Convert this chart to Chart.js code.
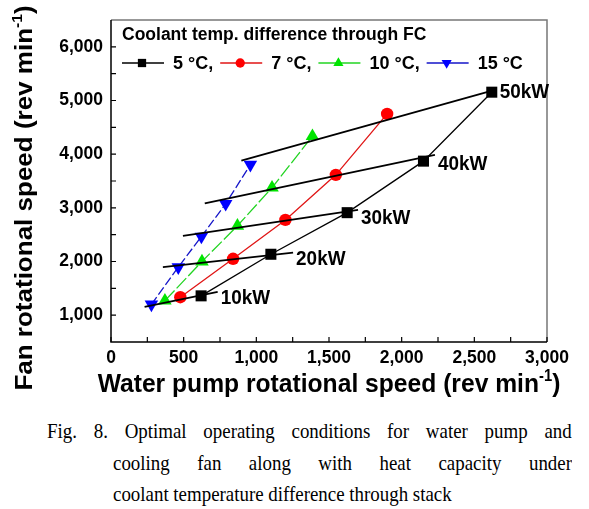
<!DOCTYPE html>
<html>
<head>
<meta charset="utf-8">
<script src="https://cdn.jsdelivr.net/npm/chart.js@4"></script>
<style>
body { margin: 0; background: #fff; }
#wrap { position: relative; width: 589px; height: 509px; overflow: hidden; }
#chart { position: absolute; left: 0; top: 0; }
.cap { position: absolute; font-family: 'Liberation Serif', 'Times New Roman', serif; font-size: 21px; line-height: 32px; color: #000; white-space: nowrap; transform: scaleX(0.9); transform-origin: 0 0; }
.just { white-space: normal; text-align: justify; text-align-last: justify; }
</style>
</head>
<body>
<div id="wrap">
  <canvas id="chart" width="589" height="400"></canvas>
  <div class="cap just" style="left:47px; top:415px; width:583px;">Fig. 8. Optimal operating conditions for water pump and</div>
  <div class="cap just" style="left:113px; top:447px; width:510px;">cooling fan along with heat capacity under</div>
  <div class="cap" style="left:113px; top:478px;">coolant temperature difference through stack</div>
</div>
<script>
// heat capacity for each point (same order in every series)
const powers = ['10kW', '20kW', '30kW', '40kW', '50kW']
const tempLabels = ['5 °C,', '7 °C,', '10 °C,', '15 °C']

// water pump speed / fan speed, rev min-1
const pump5 = [620, 1100, 1625, 2150, 2620]
const fan5 = [1360, 2135, 2910, 3870, 5155]
const pump7 = [477, 840, 1200, 1547, 1900]
const fan7 = [1335, 2050, 2775, 3615, 4750]
const pump10 = [371, 626, 870, 1108, 1386]
const fan10 = [1270, 2000, 2665, 3375, 4335]
const pump15 = [278, 463, 622, 789, 959]
const fan15 = [1200, 1895, 2465, 3075, 3805]

// constant heat capacity lines: [start, end]
const isoPump = [[231, 734], [357, 1253], [495, 1700], [645, 2229], [897, 2654]]
const isoFan = [[1155, 1434], [1894, 2166], [2477, 2961], [3085, 3985], [3879, 5208]]

const xTicks = [0, 500, 1000, 1500, 2000, 2500, 3000]
const yTicks = [1000, 2000, 3000, 4000, 5000, 6000]

const series = [
    { label: tempLabels[0], pump: pump5, fan: fan5, color: '#000000', line: '#000000', style: 'rect', radius: 7.8, rot: 0, dash: [] },
    { label: tempLabels[1], pump: pump7, fan: fan7, color: '#ff0000', line: '#e01515', style: 'circle', radius: 6.2, rot: 0, dash: [] },
    { label: tempLabels[2], pump: pump10, fan: fan10, color: '#00e400', line: '#22d422', style: 'triangle', radius: 7.8, rot: 0, dash: [14, 3] },
    { label: tempLabels[3], pump: pump15, fan: fan15, color: '#0000ff', line: '#1515c8', style: 'triangle', radius: 7.8, rot: 180, dash: [9, 3] }
]

const datasets = []
isoPump.forEach((p, i) => {
    datasets.push({
        label: powers[i],
        data: [{ x: p[0], y: isoFan[i][0] }, { x: p[1], y: isoFan[i][1] }],
        borderColor: '#000',
        borderWidth: 1.8,
        pointRadius: 0,
        showLine: true
    })
})
series.forEach((s) => {
    datasets.push({
        label: s.label,
        data: s.pump.map((v, i) => ({ x: v, y: s.fan[i] })),
        borderColor: s.line,
        borderWidth: 1.3,
        borderDash: s.dash,
        backgroundColor: s.color,
        pointBackgroundColor: s.color,
        pointBorderWidth: 0,
        pointStyle: s.style,
        pointRotation: s.rot,
        pointRadius: s.radius,
        showLine: true
    })
})

const fmt = (v) => v.toLocaleString('en-US')
const sans = 'Liberation Sans, Arial, sans-serif'

// text with a superscript part, centred on x, squeezed by sx / sy
function textSup(ctx, parts, x, y, size, sx, sy) {
    let w = 0
    parts.forEach(([t, sup]) => {
        ctx.font = 'bold ' + (sup ? size * 0.6 : size) + 'px ' + sans
        w += ctx.measureText(t).width
    })
    ctx.save()
    ctx.translate(x, y)
    ctx.scale(sx, sy)
    let cx = -w / 2
    ctx.textAlign = 'left'
    ctx.textBaseline = 'alphabetic'
    parts.forEach(([t, sup]) => {
        ctx.font = 'bold ' + (sup ? size * 0.6 : size) + 'px ' + sans
        ctx.fillText(t, cx, sup ? -size * 0.4 : 0)
        cx += ctx.measureText(t).width
    })
    ctx.restore()
}

const decor = {
    id: 'decor',
    afterDraw(chart) {
        const ctx = chart.ctx
        const a = chart.chartArea
        const xs = chart.scales.x
        const ys = chart.scales.y
        ctx.save()

        // frame
        ctx.lineWidth = 1.5
        ctx.strokeStyle = '#777'
        ctx.beginPath()
        ctx.moveTo(a.left, a.top); ctx.lineTo(a.right, a.top); ctx.lineTo(a.right, a.bottom)
        ctx.stroke()
        ctx.strokeStyle = '#000'
        ctx.beginPath()
        ctx.moveTo(a.left, a.top); ctx.lineTo(a.left, a.bottom); ctx.lineTo(a.right, a.bottom)
        ctx.stroke()

        // inward ticks, major and minor
        ctx.lineWidth = 1.2
        ctx.beginPath()
        for (let v = 0; v <= 3000; v += 250) {
            const px = xs.getPixelForValue(v)
            ctx.moveTo(px, a.bottom); ctx.lineTo(px, a.bottom - 5)
        }
        for (let v = 1000; v <= 6000; v += 500) {
            const py = ys.getPixelForValue(v)
            ctx.moveTo(a.left, py); ctx.lineTo(a.left + 5, py)
        }
        ctx.stroke()

        // heat capacity labels at the end of each line
        ctx.fillStyle = '#000'
        ctx.font = 'bold 21px ' + sans
        ctx.textAlign = 'left'
        ctx.textBaseline = 'middle'
        isoPump.forEach((p, i) => {
            const px = xs.getPixelForValue(p[1])
            const py = ys.getPixelForValue(isoFan[i][1])
            ctx.save()
            ctx.translate(px + 3, py + (i === 4 ? 3 : 6 + i))
            ctx.scale(0.9, 1)
            ctx.fillText(powers[i], 0, 0)
            ctx.restore()
        })

        // legend
        ctx.font = 'bold 17.5px ' + sans
        ctx.textBaseline = 'middle'
        ctx.fillText('Coolant temp. difference through FC', 122, 35)
        ctx.font = 'bold 18px ' + sans
        let lx = 122
        const ly = 63
        series.forEach((s) => {
            ctx.strokeStyle = s.line
            ctx.lineWidth = 1.5
            ctx.setLineDash([])
            ctx.beginPath()
            ctx.moveTo(lx, ly); ctx.lineTo(lx + 42, ly)
            ctx.stroke()
            ctx.fillStyle = s.color
            Chart.helpers.drawPoint(ctx, { pointStyle: s.style, radius: s.radius * 0.75, rotation: s.rot, borderWidth: 0 }, lx + 20, ly)
            ctx.fillStyle = '#000'
            ctx.fillText(s.label, lx + 51, ly + 1)
            lx += 51 + ctx.measureText(s.label).width + 7
        })

        // axis titles
        ctx.fillStyle = '#000'
        textSup(ctx, [['Water pump rotational speed (rev min', false], ['-1', true], [')', false]], (a.left + a.right) / 2, a.bottom + 50, 26.5, 0.93, 1)
        ctx.save()
        ctx.translate(32, 198)
        ctx.rotate(-Math.PI / 2)
        textSup(ctx, [['Fan rotational speed (rev min', false], ['-1', true], [')', false]], 0, 0, 26, 1, 0.93)
        ctx.restore()

        ctx.restore()
    }
}

const config = {
    type: 'scatter',
    data: { datasets: datasets },
    options: {
        responsive: false,
        animation: false,
        events: [],
        layout: { padding: { top: 20, right: 42, left: 0, bottom: 0 } },
        plugins: { legend: { display: false }, tooltip: { enabled: false } },
        scales: {
            x: {
                type: 'linear', min: 0, max: 3000,
                afterBuildTicks: (s) => { s.ticks = xTicks.map((v) => ({ value: v })) },
                afterFit: (s) => { s.height = 58 },
                grid: { display: false, drawTicks: false },
                border: { display: false },
                ticks: { color: '#000', padding: 6, maxRotation: 0, font: { family: sans, size: 17.5, weight: 'bold' }, callback: fmt }
            },
            y: {
                type: 'linear', min: 500, max: 6500,
                afterBuildTicks: (s) => { s.ticks = yTicks.map((v) => ({ value: v })) },
                afterFit: (s) => { s.width = 111 },
                grid: { display: false, drawTicks: false },
                border: { display: false },
                ticks: { color: '#000', padding: 8, font: { family: sans, size: 17.5, weight: 'bold' }, callback: fmt }
            }
        }
    },
    plugins: [decor]
}

new Chart(document.getElementById('chart'), config)
</script>
</body>
</html>
